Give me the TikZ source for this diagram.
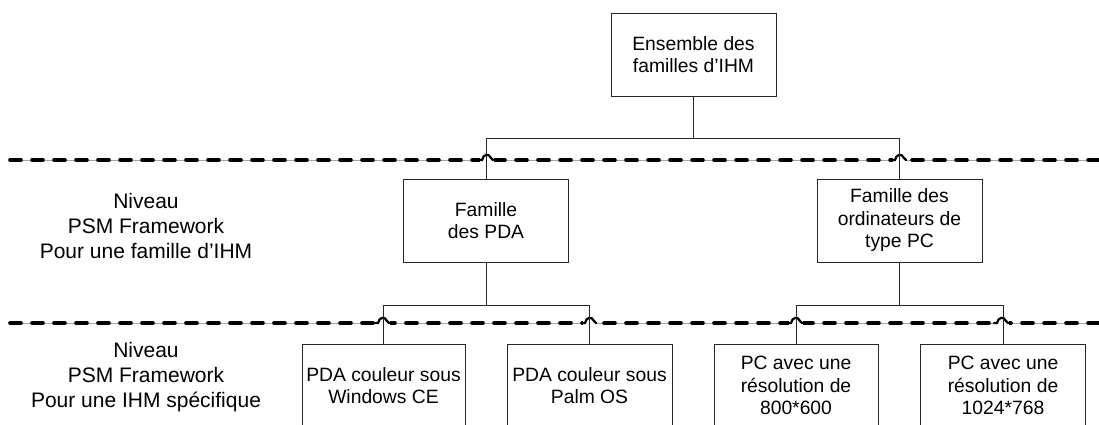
\documentclass[tikz,border=0pt]{standalone}
\usepackage{fontspec}
\setmainfont{Liberation Sans}
\begin{document}
\begin{tikzpicture}[x=1pt,y=-1pt,
  boxnode/.style={draw=black!85, line width=0.8pt, minimum width=165pt, minimum height=83pt,
    inner sep=0pt, align=center, font=\fontsize{19.3}{22.5}\selectfont},
  lvlnode/.style={align=center, inner sep=0pt, font=\fontsize{21}{25}\selectfont},
  conn/.style={draw=black!85, line width=0.8pt},
  sepline/.style={line width=3.6pt, line cap=round, dash pattern=on 11pt off 11pt},
  sepbase/.style={draw=black!35, line width=0.8pt},
  hop/.style={line width=2.2pt, line cap=round}]
\useasboundingbox (0,0) rectangle (1099,424);
\clip (0,0) rectangle (1099,424);

% separator lines
\coordinate (s1a) at (10,160);
\coordinate (s1b) at (1110,160);
\coordinate (s2a) at (10,323);
\coordinate (s2b) at (1110,323);
\draw[sepbase] (s1a) -- (s1b);
\draw[sepbase] (s2a) -- (s2b);
\draw[sepline] (s1a) -- (s1b);
\draw[sepline] (s2a) -- (s2b);
% hops over the connectors
\foreach \hx/\hy in {487/160, 900/160, 383/323, 590/323, 796/323, 1002/323}{
  \fill[white] (\hx-7,\hy-3) rectangle (\hx+7,\hy+3);
  \draw[hop] (\hx-8,\hy) -- (\hx-5,\hy) .. controls (\hx-4,\hy-6) and (\hx+2,\hy-7) .. (\hx+4,\hy-2) -- (\hx+6,\hy);
}

% boxes
\node[boxnode] (top) at (693.5,54.5) {Ensemble des\\familles d’IHM};
\node[boxnode] (pda) at (486,220.5) {Famille\\des PDA};
\node[boxnode] (pc) at (899.5,220.5) {Famille des\\ordinateurs de\\type PC};
\node[boxnode, minimum width=163pt] (wce) at (383.5,385.5) {PDA couleur sous\\Windows CE};
\node[boxnode] (palm) at (589.5,385.5) {PDA couleur sous\\Palm OS};
\node[boxnode, minimum width=164pt] (r800) at (796,385.5) {PC avec une\\résolution de\\800*600};
\node[boxnode] (r1024) at (1003,385.5) {PC avec une\\résolution de\\1024*768};

% level labels
\node[lvlnode] (lvl1) at (146,226) {Niveau\\PSM Framework\\Pour une famille d’IHM};
\node[lvlnode] (lvl2) at (146,377) {Niveau\\PSM Framework\\Pour une IHM spécifique};

% connectors
\coordinate (j1) at (0,138);
\coordinate (j2) at (0,305);
\draw[conn] (top.south) -- (top.south |- j1) -| (pda.north);
\draw[conn] (top.south |- j1) -| (pc.north);
\draw[conn] (pda.south) -- (pda.south |- j2) -| (wce.north);
\draw[conn] (pda.south |- j2) -| (palm.north);
\draw[conn] (pc.south) -- (pc.south |- j2) -| (r800.north);
\draw[conn] (pc.south |- j2) -| (r1024.north);
\end{tikzpicture}
\end{document}
